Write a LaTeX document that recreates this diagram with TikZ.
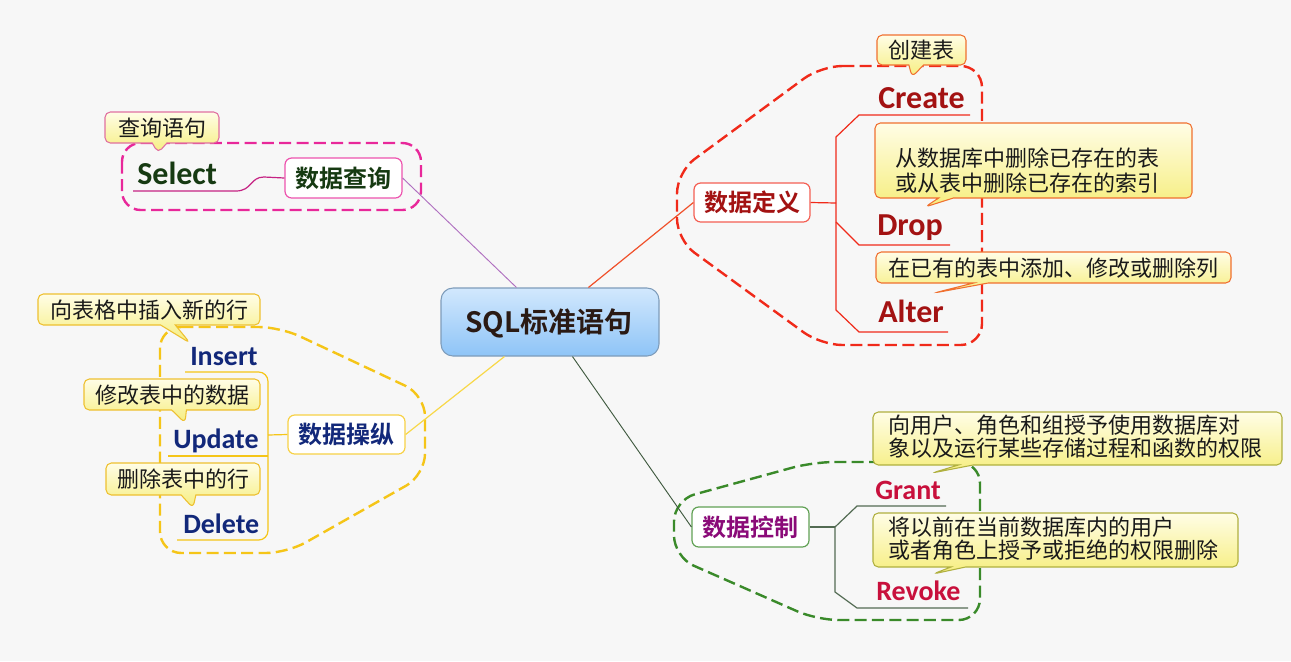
\documentclass[tikz,border=0pt]{standalone}
\usepackage{fontspec}
\setmainfont{Carlito}
\newfontfamily\cjk[BoldFont={Noto Sans CJK SC Bold}]{Noto Sans CJK SC}
\usetikzlibrary{shapes.callouts,fit,calc}
\definecolor{bgc}{HTML}{F7F7F7}
\definecolor{pinkc}{HTML}{E8289A}
\definecolor{redc}{HTML}{F02A1A}
\definecolor{yelc}{HTML}{F5C518}
\definecolor{grnc}{HTML}{3A8A2A}
\definecolor{purl}{HTML}{B070C0}
\definecolor{orl}{HTML}{F0502A}
\definecolor{yell}{HTML}{F8D848}
\definecolor{gryl}{HTML}{405A40}
\definecolor{sqltop}{HTML}{D2E8FD}
\definecolor{sqlbot}{HTML}{8EC4F7}
\definecolor{sqlbd}{HTML}{7E9CBA}
\definecolor{sqltx}{HTML}{2A1A14}
\definecolor{qrytx}{HTML}{163A12}
\definecolor{deftx}{HTML}{A31212}
\definecolor{optx}{HTML}{12287A}
\definecolor{ctltx}{HTML}{8A0A78}
\definecolor{grtx}{HTML}{C8103C}
\definecolor{notetop}{HTML}{FFFDE6}
\definecolor{notebot}{HTML}{F6EE7E}
\definecolor{notetx}{HTML}{1A1A1A}
\definecolor{nbpink}{HTML}{E070A0}
\definecolor{nbred}{HTML}{F07030}
\definecolor{nbyel}{HTML}{EEC030}
\definecolor{nbgrn}{HTML}{B0B040}
\begin{document}
\begin{tikzpicture}[x=0.75pt,y=-0.75pt,
  topic/.style={draw, fill=white, rounded corners=5pt, line width=0.9pt, inner sep=0pt},
  topictext/.style={font=\cjk\bfseries\fontsize{18}{20}\selectfont, anchor=base, inner sep=0pt},
  note/.style={rectangle callout, rounded corners=4pt, line width=0.8pt, inner sep=0pt,
    top color=notetop, bottom color=notebot, callout pointer width=11pt},
  notetext/.style={font=\cjk\fontsize{16.5}{18.5}\selectfont, text=notetx, inner sep=0pt},
  kwbig/.style={font=\bfseries\fontsize{24}{24}\selectfont, anchor=base west, inner sep=0pt},
  kwsmall/.style={font=\bfseries\fontsize{21}{21}\selectfont, anchor=base west, inner sep=0pt},
  bound/.style={dash pattern=on 9pt off 4pt, line width=1.8pt},
  branch/.style={line width=0.9pt}
]
\useasboundingbox (0,0) rectangle (1291,661);
\fill[bgc] (0,0) rectangle (1291,661);

% dashed group borders
\draw[bound, pinkc, rounded corners=14] (122,143) rectangle (421,210);
\draw[bound, redc, rounded corners=16] (821,66) -- (982,66) -- (982,345) -- (821,345) -- (677,240) -- (677,172) -- cycle;
\draw[bound, yelc, rounded corners=16] (160,327) -- (280,327) -- (425,395) -- (425,475) -- (287,553) -- (160,553) -- cycle;
\draw[bound, grnc, rounded corners=16] (813,462) -- (980,462) -- (980,620) -- (817,620) -- (674,557) -- (674,500) -- cycle;

% central and topic nodes
\node[draw=sqlbd, line width=0.8pt, rounded corners=9pt, top color=sqltop, bottom color=sqlbot,
  inner sep=0pt, fit={(441,288)(659,356)}] (sql) {};
\node[font=\cjk\bfseries\fontsize{21}{24}\selectfont, text=sqltx, anchor=base, inner sep=0pt]
  (sqlt) at (549,332) {SQL标准语句};
\node[topic, draw=pinkc!80, fit={(285,158)(402,198)}] (qry) {};
\node[topictext, text=qrytx] (qryt) at (343.5,187) {数据查询};
\node[topic, draw=redc!75, fit={(694,183)(810,222)}] (def) {};
\node[topictext, text=deftx] (deft) at (752,211.5) {数据定义};
\node[topic, draw=yelc!80, fit={(288,415)(405,454)}] (op) {};
\node[topictext, text=optx] (opt) at (346.5,443.5) {数据操纵};
\node[topic, draw=grnc!80, fit={(692,507)(809,547)}] (ctl) {};
\node[topictext, text=ctltx] (ctlt) at (750.5,536) {数据控制};

% main connectors
\draw[purl, line width=0.7pt] (qry.east) -- ($(sql.north west)+(76,0)$);
\draw[orl, line width=0.9pt] ($(sql.north west)+(148,0)$) -- (def.west);
\draw[yell, line width=0.9pt] ($(sql.south west)+(64,0)$) -- (op.east);
\draw[gryl, line width=0.7pt] ($(sql.south west)+(132,0)$) -- (ctl.west);

% keywords
\node[kwbig, text=qrytx] (sel) at (137,184) {Select};
\node[kwbig, text=deftx] (cre) at (878,108) {Create};
\node[kwbig, text=deftx] (drp) at (877,235) {Drop};
\node[kwbig, text=deftx] (alt) at (878,322) {Alter};
\node[kwsmall, text=optx] (ins) at (190,365) {Insert};
\node[kwsmall, text=optx] (upd) at (173,448) {Update};
\node[kwsmall, text=optx] (del) at (183,533) {Delete};
\node[kwsmall, text=grtx] (gra) at (875,499) {Grant};
\node[kwsmall, text=grtx] (rev) at (876,600) {Revoke};

% underline end coordinates
\coordinate (selu) at (133,191);
\coordinate (creu) at (970,115);
\coordinate (drpu) at (950,245);
\coordinate (altu) at (948,332);
\coordinate (insu) at (185,372);
\coordinate (updu) at (168,456);
\coordinate (delu) at (177,540);
\coordinate (grau) at (946,506);
\coordinate (revu) at (968,608);

% branch lines
\draw[branch, pinkc!85!black] (qry.west) -- (264,177) .. controls (250,177) and (252,191) .. (236,191) -- (selu);
\draw[branch, redc] (def.east) -- (836,203);
\draw[branch, redc] (creu) -- (859,115) -- (836,137) -- (836,310) -- (859,332) -- (altu);
\draw[branch, redc] (836,222) -- (859,245) -- (drpu);
\draw[branch, yelc] (op.west) -- (268,435);
\draw[branch, yelc, rounded corners=7] (insu) -- (268,372) -- (268,540) -- (delu);
\draw[branch, yelc] (268,456) -- (updu);
\draw[branch, gryl!90] (ctl.east) -- (835,527);
\draw[branch, gryl!90] (grau) -- (857,506) -- (835,527) -- (835,592) -- (857,608) -- (revu);

% callouts
\node[note, draw=nbpink, fit={(105,112)(219,143)}, callout absolute pointer={(158,153)}] (n1) {};
\node[notetext, anchor=base] (n1t) at (162,136) {查询语句};
\node[note, draw=nbred, fit={(877,35)(966,65)}, callout absolute pointer={(912,77)}] (n2) {};
\node[notetext, anchor=base] (n2t) at (921.5,58) {创建表};
\node[note, draw=nbred, fit={(875,123)(1192,198)}, callout absolute pointer={(925,207)}] (n3) {};
\node[notetext, anchor=base west] (n3a) at (895,166) {从数据库中删除已存在的表};
\node[notetext, anchor=base west] (n3b) at (895,191) {或从表中删除已存在的索引};
\node[note, draw=nbred, fit={(876,252)(1231,283)}, callout absolute pointer={(934,293)}] (n4) {};
\node[notetext, anchor=base] (n4t) at (1053.5,276) {在已有的表中添加、修改或删除列};
\node[note, draw=nbyel, fit={(38,294)(260,325)}, callout absolute pointer={(190,343)}] (n5) {};
\node[notetext, anchor=base] (n5t) at (149,318) {向表格中插入新的行};
\node[note, draw=nbyel, fit={(84,379)(260,410)}, callout absolute pointer={(185,423)}] (n6) {};
\node[notetext, anchor=base] (n6t) at (172,403) {修改表中的数据};
\node[note, draw=nbyel, fit={(106,463)(260,495)}, callout absolute pointer={(193,508)}] (n7) {};
\node[notetext, anchor=base] (n7t) at (183,487) {删除表中的行};
\node[note, draw=nbgrn, fit={(873,412)(1282,465)}, callout absolute pointer={(932,473)}] (n8) {};
\node[notetext, anchor=base west] (n8a) at (888,433) {向用户、角色和组授予使用数据库对};
\node[notetext, anchor=base west] (n8b) at (888,456) {象以及运行某些存储过程和函数的权限};
\node[note, draw=nbgrn, fit={(873,513)(1238,567)}, callout absolute pointer={(933,574)}] (n9) {};
\node[notetext, anchor=base west] (n9a) at (888,535) {将以前在当前数据库内的用户};
\node[notetext, anchor=base west] (n9b) at (888,558) {或者角色上授予或拒绝的权限删除};
\end{tikzpicture}
\end{document}
